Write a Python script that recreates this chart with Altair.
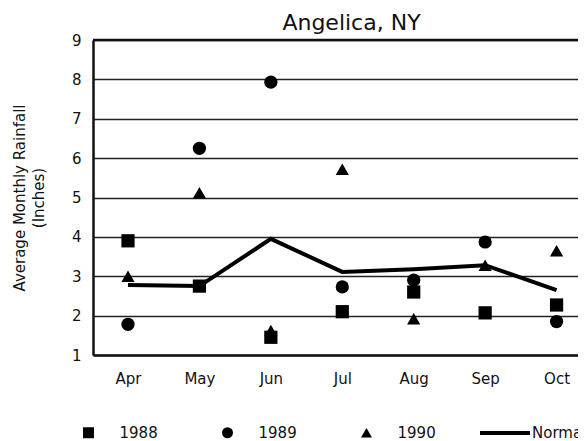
import altair as alt
import pandas as pd

months = ["Apr", "May", "Jun", "Jul", "Aug", "Sep", "Oct"]
years = ["1988", "1989", "1990"]
normal_name = "Normal"
r1988 = [3.9, 2.75, 1.45, 2.1, 2.6, 2.07, 2.27]
r1989 = [1.78, 6.25, 7.93, 2.73, 2.9, 3.87, 1.85]
r1990 = [3.0, 5.12, 1.62, 5.72, 1.92, 3.28, 3.65]
normal = [2.78, 2.75, 3.95, 3.11, 3.18, 3.28, 2.65]
y_ticks = [1, 2, 3, 4, 5, 6, 7, 8, 9]

FONT = "DejaVu Sans"
INK = "#111111"

rows = []
for name, vals in zip(years, [r1988, r1989, r1990]):
    for i, v in enumerate(vals):
        rows.append({"idx": i, "month": months[i], "series": name, "value": v})
pts = pd.DataFrame(rows)
line_df = pd.DataFrame({"idx": list(range(len(months))), "month": months,
                        "series": normal_name, "value": normal})
top_df = pd.DataFrame({"value": [max(y_ticks)]})

label_expr = "[" + ",".join("'%s'" % m for m in months) + "][datum.value]"

x_enc = alt.X(
    "idx:Q",
    scale=alt.Scale(domain=[-0.49, 6.3], nice=False, zero=False),
    axis=alt.Axis(
        title=None, values=list(range(len(months))), labelExpr=label_expr,
        grid=False, ticks=False, domainWidth=2.5, domainColor=INK,
        labelPadding=16, labelFont=FONT, labelFontSize=15, labelColor=INK,
    ),
)
y_scale = alt.Scale(domain=[1, 9], nice=False, zero=False)
y_axis = alt.Axis(
    title=["Average Monthly Rainfall", "(Inches)"], values=y_ticks, format="d",
    grid=True, gridColor="#222222", gridWidth=1.6, ticks=False,
    domainWidth=2.5, domainColor=INK, labelPadding=12, labelOverlap=False,
    labelFont=FONT, labelFontSize=15, labelColor=INK,
    titleFont=FONT, titleFontSize=15, titleFontWeight="normal", titleColor=INK,
    titlePadding=25, titleLineHeight=19,
)
y_enc = alt.Y("value:Q", scale=y_scale, axis=y_axis)

line = alt.Chart(line_df).mark_line(strokeWidth=4).encode(
    x=x_enc,
    y=y_enc,
    color=alt.Color(
        "series:N",
        scale=alt.Scale(domain=[normal_name], range=["black"]),
        legend=alt.Legend(
            title=None, orient="none", legendX=385, legendY=366,
            symbolType="stroke", symbolSize=2500, symbolStrokeWidth=4,
            labelOffset=0, labelFont=FONT, labelFontSize=15, labelColor=INK,
        ),
    ),
)

top = alt.Chart(top_df).mark_rule(color=INK, strokeWidth=2.5).encode(y=y_enc)

points = alt.Chart(pts).mark_point(filled=True, color="black", opacity=1, size=175).encode(
    x=x_enc,
    y=y_enc,
    shape=alt.Shape(
        "series:N",
        scale=alt.Scale(domain=years, range=["square", "circle", "triangle-up"]),
        legend=alt.Legend(
            title=None, orient="none", direction="horizontal", columns=3,
            legendX=-12, legendY=385, columnPadding=62, labelOffset=23.5,
            labelFont=FONT, labelFontSize=15, labelColor=INK, symbolSize=121,
            symbolStrokeWidth=0, symbolFillColor="black",
        ),
    ),
)

chart = alt.layer(line, top, points).properties(
    width=485,
    height=315,
    title=alt.Title("Angelica, NY", font=FONT, fontSize=22, fontWeight="normal",
                    color=INK, dx=16, offset=-2, anchor="middle"),
    autosize=alt.AutoSizeParams(type="none"),
    padding={"left": 85, "top": 32, "right": 0, "bottom": 86},
).configure_view(stroke=None).configure(background="white")

chart.save("out.html", embed_options={"renderer": "svg", "actions": False})
